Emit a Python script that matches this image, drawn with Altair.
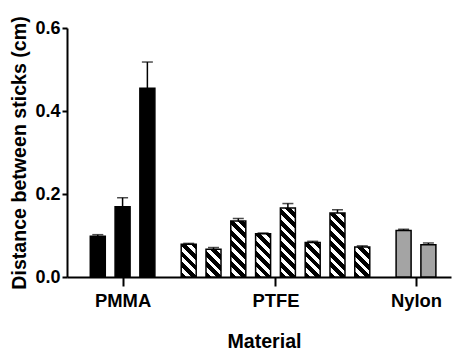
import altair as alt
import pandas as pd

# ---- data ----
groups = ["PMMA", "PTFE", "Nylon"]
pmma_mean = [0.098, 0.169, 0.455]
pmma_err = [0.004, 0.022, 0.063]
ptfe_mean = [0.079, 0.067, 0.135, 0.104, 0.166, 0.083, 0.154, 0.072]
ptfe_err = [0.002, 0.004, 0.006, 0.002, 0.011, 0.003, 0.008, 0.003]
nylon_mean = [0.112, 0.078]
nylon_err = [0.003, 0.004]
y_ticks = [0.0, 0.2, 0.4, 0.6]

# ---- layout ----
W, H = 384, 249
Y_MAX = 0.6
BAR = 15.0
GAP = 2.0 / 3.0
FONT = "Liberation Sans"

rows = []
centers = {}
offset = 0.0
for g, means, errs in zip(groups, [pmma_mean, ptfe_mean, nylon_mean],
                          [pmma_err, ptfe_err, nylon_err]):
    for i, (m, e) in enumerate(zip(means, errs)):
        rows.append(dict(group=g, k=i, pos=offset + i, mean=m, top=m + e))
    centers[g] = offset + (len(means) - 1) / 2.0
    offset += len(means) + GAP
df = pd.DataFrame(rows)

x_dom = [-1.04, offset - GAP - 1 + 0.71]
label_expr = (f"datum.value < {(centers['PMMA'] + centers['PTFE']) / 2} ? 'PMMA' : "
              f"datum.value < {(centers['PTFE'] + centers['Nylon']) / 2} ? 'PTFE' : 'Nylon'")

x_enc = alt.X("pos:Q",
              scale=alt.Scale(domain=x_dom, nice=False, zero=False),
              axis=alt.Axis(values=[centers[g] for g in groups], labelExpr=label_expr,
                            title="Material", grid=False,
                            domainColor="black", domainWidth=2,
                            tickColor="black", tickWidth=2, tickSize=9,
                            labelFont=FONT, labelFontSize=18.4, labelFontWeight="bold",
                            labelColor="black", labelPadding=5, labelFlush=False,
                            titleFont=FONT, titleFontSize=19.6, titleFontWeight="bold",
                            titleColor="black", titleX=197, titleY=70,
                            titleBaseline="alphabetic", titleAlign="center"))


def y_enc(field):
    return alt.Y(f"{field}:Q",
                 scale=alt.Scale(domain=[0, Y_MAX], nice=False),
                 axis=alt.Axis(values=y_ticks, format=".1f", grid=False,
                               title="Distance between sticks (cm)",
                               domainColor="black", domainWidth=2,
                               tickColor="black", tickWidth=2, tickSize=5,
                               labelFont=FONT, labelFontSize=18, labelFontWeight="bold",
                               labelColor="black", labelPadding=2,
                               titleFont=FONT, titleFontSize=19.6, titleFontWeight="bold",
                               titleColor="black", titlePadding=5))


def hatch(value, w=BAR, period=10.5, black=0.55):
    h = value / Y_MAX * H
    r = h / w
    denom = w * (1 + r * r)
    smax = w + h
    bp = period * black
    stops = []
    # s runs from bottom-left (0) to top-right (w+h); isolines are "\" stripes
    bounds = []
    k = 0
    while k * period < smax:
        bounds.append((k * period + bp, "white"))
        bounds.append(((k + 1) * period, "black"))
        k += 1
    stops.append({"offset": 0, "color": "black"})
    cur = "black"
    for b, nxt in bounds:
        if b >= smax:
            break
        t = round(b / denom, 5)
        stops.append({"offset": t, "color": cur})
        stops.append({"offset": t, "color": nxt})
        cur = nxt
    stops.append({"offset": round(smax / denom, 5), "color": cur})
    return {"gradient": "linear", "x1": 0, "y1": 1, "x2": 1, "y2": round(1 - r, 5),
            "stops": stops}


base = alt.Chart(df)

layers = []
layers.append(base.transform_filter("datum.group == 'PMMA'")
              .mark_bar(size=BAR, color="black", stroke="black", strokeWidth=1.5)
              .encode(x=x_enc, y=y_enc("mean")))
for i, m in enumerate(ptfe_mean):
    layers.append(base.transform_filter(f"datum.group == 'PTFE' && datum.k == {i}")
                  .mark_bar(size=BAR, fill=hatch(m), stroke="black", strokeWidth=1.5)
                  .encode(x=x_enc, y=y_enc("mean")))
layers.append(base.transform_filter("datum.group == 'Nylon'")
              .mark_bar(size=BAR, fill="#a4a4a4", stroke="black", strokeWidth=1.5)
              .encode(x=x_enc, y=y_enc("mean")))
layers.append(base.mark_rule(color="black", strokeWidth=1.5)
              .encode(x=x_enc, y=y_enc("mean"), y2="top:Q"))
layers.append(base.mark_tick(orient="horizontal", size=11, thickness=1.5, color="black")
              .encode(x=x_enc, y=y_enc("top")))

chart = alt.layer(*layers).properties(
    width=W, height=H,
    autosize=alt.AutoSizeParams(type="none"),
    padding={"left": 59, "top": 20, "right": 5, "bottom": 77},
    background="white",
).configure_view(stroke=None)

chart.save("out.html", embed_options={"renderer": "svg", "actions": False})
